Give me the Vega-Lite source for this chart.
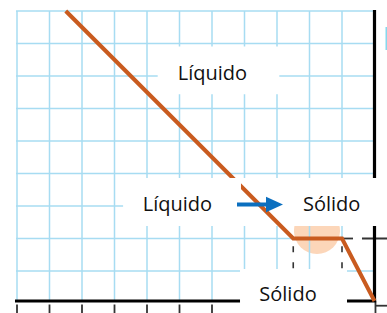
{
  "$schema": "https://vega.github.io/schema/vega-lite/v6.json",
  "width": 387,
  "height": 313,
  "autosize": {"type": "none"},
  "padding": 0,
  "background": "white",
  "config": {"view": {"stroke": null}},
  "datasets": {
    "circle": [{"x": 9.23, "y": 2.23}],
    "grid": [
      {"x": 0, "x2": 0, "y": 9, "y2": 0.077},
      {"x": 1, "x2": 1, "y": 9, "y2": 0.077},
      {"x": 2, "x2": 2, "y": 9, "y2": 0.077},
      {"x": 3, "x2": 3, "y": 9, "y2": 0.077},
      {"x": 4, "x2": 4, "y": 9, "y2": 0.077},
      {"x": 5, "x2": 5, "y": 9, "y2": 0.077},
      {"x": 6, "x2": 6, "y": 9, "y2": 0.077},
      {"x": 7, "x2": 7, "y": 9, "y2": 0.077},
      {"x": 8, "x2": 8, "y": 9, "y2": 0.077},
      {"x": 9, "x2": 9, "y": 9, "y2": 0.077},
      {"x": 10, "x2": 10, "y": 9, "y2": 0.077},
      {"x": -0.03, "x2": 11, "y": 1, "y2": 1},
      {"x": -0.03, "x2": 11, "y": 2, "y2": 2},
      {"x": -0.03, "x2": 11, "y": 3, "y2": 3},
      {"x": -0.03, "x2": 11, "y": 4, "y2": 4},
      {"x": -0.03, "x2": 11, "y": 5, "y2": 5},
      {"x": -0.03, "x2": 11, "y": 6, "y2": 6},
      {"x": -0.03, "x2": 11, "y": 7, "y2": 7},
      {"x": -0.03, "x2": 11, "y": 8, "y2": 8},
      {"x": -0.03, "x2": 11, "y": 9, "y2": 9}
    ],
    "under": [
      {"x": 10, "x2": 10, "y": 0.98, "y2": 2},
      {"x": 10, "x2": 11, "y": 2, "y2": 2}
    ],
    "dash": [
      {"x": 8.5, "x2": 8.5, "y": 1.083, "y2": 2},
      {"x": 10, "x2": 10, "y": 1.083, "y2": 2}
    ],
    "ticks": [
      {"x": 10, "x2": 10.338, "y": 2, "y2": 2},
      {"x": 10.615, "x2": 11.6, "y": 2, "y2": 2},
      {"x": 0, "x2": 0, "y": -0.031, "y2": -0.5},
      {"x": 1, "x2": 1, "y": -0.031, "y2": -0.5},
      {"x": 2, "x2": 2, "y": -0.031, "y2": -0.5},
      {"x": 3, "x2": 3, "y": -0.031, "y2": -0.5},
      {"x": 4, "x2": 4, "y": -0.031, "y2": -0.5},
      {"x": 5, "x2": 5, "y": -0.031, "y2": -0.5},
      {"x": 6, "x2": 6, "y": -0.031, "y2": -0.5},
      {"x": 7, "x2": 7, "y": -0.031, "y2": -0.5},
      {"x": 8, "x2": 8, "y": -0.031, "y2": -0.5},
      {"x": 9, "x2": 9, "y": -0.031, "y2": -0.5},
      {"x": 10, "x2": 10, "y": -0.031, "y2": -0.5},
      {"x": 11.03, "x2": 11.03, "y": 0.077, "y2": -0.5},
      {"x": 11.03, "x2": 11.6, "y": -0.068, "y2": -0.068}
    ],
    "axes": [
      {"x": -0.062, "x2": 11.05, "y": 0.077, "y2": 0.077},
      {"x": 11, "x2": 11, "y": 0.077, "y2": 9.03}
    ],
    "boxes": [
      {"x": 4.329, "x2": 8.071, "y": 6.437, "y2": 7.908},
      {"x": 3.271, "x2": 11.6, "y": 2.385, "y2": 3.862},
      {"x": 6.862, "x2": 10.154, "y": -0.5, "y2": 1.062}
    ],
    "cyan": [{"x": 11.338, "x2": 11.6, "y": 7.8, "y2": 8.508}],
    "curve": [
      {"x": 1.5, "y": 9},
      {"x": 8.5, "y": 2},
      {"x": 10, "y": 2},
      {"x": 11, "y": 0.077}
    ],
    "topbox": [{"x": 3.271, "x2": 6.892, "y": 2.385, "y2": 3.862}],
    "labels": [
      {"x": 6.015, "y": 6.877, "text": "Líquido"},
      {"x": 4.938, "y": 2.846, "text": "Líquido"},
      {"x": 9.683, "y": 2.846, "text": "Sólido"},
      {"x": 8.338, "y": 0.077, "text": "Sólido"}
    ],
    "arrow": [{"x": 6.769, "x2": 7.846, "y": 3.046, "y2": 3.046}],
    "head": [{"x": 7.923, "y": 3.046}]
  },
  "layer": [
    {
      "data": {"name": "circle"},
      "mark": {"type": "point", "filled": true, "size": 2124, "color": "#fcd6b9", "opacity": 1, "strokeWidth": 0},
      "encoding": {
        "x": {"field": "x", "type": "quantitative", "scale": {"domain": [-0.5231, 11.3846], "nice": false, "zero": false}, "axis": null},
        "y": {"field": "y", "type": "quantitative", "scale": {"domain": [-0.2923, 9.3385], "nice": false, "zero": false}, "axis": null}
      }
    },
    {
      "data": {"name": "grid"},
      "mark": {"type": "rule", "color": "#a7dcf2", "strokeWidth": 1.5},
      "encoding": {
        "x": {"field": "x", "type": "quantitative", "scale": {"domain": [-0.5231, 11.3846], "nice": false, "zero": false}, "axis": null},
        "x2": {"field": "x2"},
        "y": {"field": "y", "type": "quantitative", "scale": {"domain": [-0.2923, 9.3385], "nice": false, "zero": false}, "axis": null},
        "y2": {"field": "y2"}
      }
    },
    {
      "data": {"name": "under"},
      "mark": {"type": "rule", "color": "white", "strokeWidth": 3},
      "encoding": {
        "x": {"field": "x", "type": "quantitative", "scale": {"domain": [-0.5231, 11.3846], "nice": false, "zero": false}, "axis": null},
        "x2": {"field": "x2"},
        "y": {"field": "y", "type": "quantitative", "scale": {"domain": [-0.2923, 9.3385], "nice": false, "zero": false}, "axis": null},
        "y2": {"field": "y2"}
      }
    },
    {
      "data": {"name": "dash"},
      "mark": {"type": "rule", "color": "#333333", "strokeWidth": 1.6, "strokeDash": [6, 10]},
      "encoding": {
        "x": {"field": "x", "type": "quantitative", "scale": {"domain": [-0.5231, 11.3846], "nice": false, "zero": false}, "axis": null},
        "x2": {"field": "x2"},
        "y": {"field": "y", "type": "quantitative", "scale": {"domain": [-0.2923, 9.3385], "nice": false, "zero": false}, "axis": null},
        "y2": {"field": "y2"}
      }
    },
    {
      "data": {"name": "ticks"},
      "mark": {"type": "rule", "color": "#333333", "strokeWidth": 1.8},
      "encoding": {
        "x": {"field": "x", "type": "quantitative", "scale": {"domain": [-0.5231, 11.3846], "nice": false, "zero": false}, "axis": null},
        "x2": {"field": "x2"},
        "y": {"field": "y", "type": "quantitative", "scale": {"domain": [-0.2923, 9.3385], "nice": false, "zero": false}, "axis": null},
        "y2": {"field": "y2"}
      }
    },
    {
      "data": {"name": "axes"},
      "mark": {"type": "rule", "color": "#000000", "strokeWidth": 3.2},
      "encoding": {
        "x": {"field": "x", "type": "quantitative", "scale": {"domain": [-0.5231, 11.3846], "nice": false, "zero": false}, "axis": null},
        "x2": {"field": "x2"},
        "y": {"field": "y", "type": "quantitative", "scale": {"domain": [-0.2923, 9.3385], "nice": false, "zero": false}, "axis": null},
        "y2": {"field": "y2"}
      }
    },
    {
      "data": {"name": "cyan"},
      "mark": {"type": "rect", "color": "#86d8ee"},
      "encoding": {
        "x": {"field": "x", "type": "quantitative", "scale": {"domain": [-0.5231, 11.3846], "nice": false, "zero": false}, "axis": null},
        "x2": {"field": "x2"},
        "y": {"field": "y", "type": "quantitative", "scale": {"domain": [-0.2923, 9.3385], "nice": false, "zero": false}, "axis": null},
        "y2": {"field": "y2"}
      }
    },
    {
      "data": {"name": "boxes"},
      "mark": {"type": "rect", "color": "white"},
      "encoding": {
        "x": {"field": "x", "type": "quantitative", "scale": {"domain": [-0.5231, 11.3846], "nice": false, "zero": false}, "axis": null},
        "x2": {"field": "x2"},
        "y": {"field": "y", "type": "quantitative", "scale": {"domain": [-0.2923, 9.3385], "nice": false, "zero": false}, "axis": null},
        "y2": {"field": "y2"}
      }
    },
    {
      "data": {"name": "curve"},
      "mark": {"type": "line", "color": "#c95b1f", "strokeWidth": 4, "strokeJoin": "miter"},
      "encoding": {
        "x": {"field": "x", "type": "quantitative", "scale": {"domain": [-0.5231, 11.3846], "nice": false, "zero": false}, "axis": null},
        "y": {"field": "y", "type": "quantitative", "scale": {"domain": [-0.2923, 9.3385], "nice": false, "zero": false}, "axis": null},
        "order": {"field": "x", "type": "quantitative"}
      }
    },
    {
      "data": {"name": "topbox"},
      "mark": {"type": "rect", "color": "white"},
      "encoding": {
        "x": {"field": "x", "type": "quantitative", "scale": {"domain": [-0.5231, 11.3846], "nice": false, "zero": false}, "axis": null},
        "x2": {"field": "x2"},
        "y": {"field": "y", "type": "quantitative", "scale": {"domain": [-0.2923, 9.3385], "nice": false, "zero": false}, "axis": null},
        "y2": {"field": "y2"}
      }
    },
    {
      "data": {"name": "labels"},
      "mark": {"type": "text", "font": "Open Sans", "fontSize": 20, "color": "#111111", "align": "center", "baseline": "alphabetic"},
      "encoding": {
        "x": {"field": "x", "type": "quantitative", "scale": {"domain": [-0.5231, 11.3846], "nice": false, "zero": false}, "axis": null},
        "y": {"field": "y", "type": "quantitative", "scale": {"domain": [-0.2923, 9.3385], "nice": false, "zero": false}, "axis": null},
        "text": {"field": "text", "type": "nominal"}
      }
    },
    {
      "data": {"name": "arrow"},
      "mark": {"type": "rule", "color": "#0b6fbf", "strokeWidth": 4},
      "encoding": {
        "x": {"field": "x", "type": "quantitative", "scale": {"domain": [-0.5231, 11.3846], "nice": false, "zero": false}, "axis": null},
        "x2": {"field": "x2"},
        "y": {"field": "y", "type": "quantitative", "scale": {"domain": [-0.2923, 9.3385], "nice": false, "zero": false}, "axis": null},
        "y2": {"field": "y2"}
      }
    },
    {
      "data": {"name": "head"},
      "mark": {"type": "point", "shape": "M-1,-0.9L1,0L-1,0.9Z", "size": 289, "filled": true, "color": "#0b6fbf", "opacity": 1, "strokeWidth": 0},
      "encoding": {
        "x": {"field": "x", "type": "quantitative", "scale": {"domain": [-0.5231, 11.3846], "nice": false, "zero": false}, "axis": null},
        "y": {"field": "y", "type": "quantitative", "scale": {"domain": [-0.2923, 9.3385], "nice": false, "zero": false}, "axis": null}
      }
    }
  ]
}
